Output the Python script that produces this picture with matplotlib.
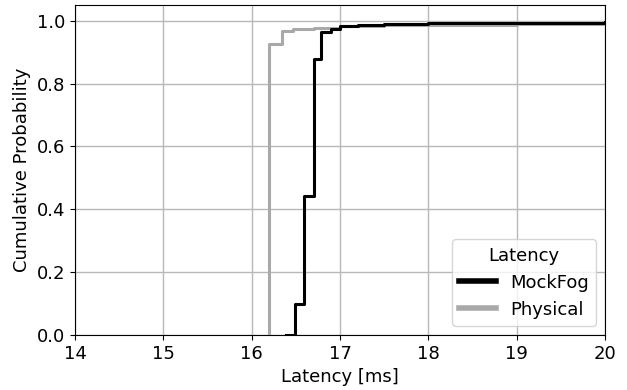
import matplotlib
matplotlib.use('Agg')
import matplotlib.pyplot as plt

plt.rcParams['font.family'] = ['DejaVu Sans']
plt.rcParams['font.size'] = 13

# CDF step points
mockfog_x = [16.39, 16.49, 16.59, 16.70, 16.79, 16.90, 17.00, 17.20, 17.50, 18.00, 19.00, 20.00]
mockfog_y = [0.000, 0.100, 0.443, 0.877, 0.963, 0.975, 0.983, 0.988, 0.990, 0.992, 0.994, 0.996]

physical_x = [16.20, 16.20, 16.34, 16.47, 16.70, 17.00, 17.50, 18.00, 19.00, 20.00]
physical_y = [0.000, 0.927, 0.966, 0.975, 0.978, 0.982, 0.985, 0.988, 0.990, 0.992]

fig = plt.figure(figsize=(6.27, 3.9), dpi=100)
ax = fig.add_axes([0.1196, 0.141, 0.8454, 0.846])

ax.step(physical_x, physical_y, where='post', color='darkgray', lw=2.2, label='Physical', zorder=3)
ax.step(mockfog_x, mockfog_y, where='post', color='black', lw=2.2, label='MockFog', zorder=4)

ax.set_xlim(14, 20)
ax.set_ylim(0, 1.05)
ax.set_xticks(range(14, 21))
ax.set_yticks([0.0, 0.2, 0.4, 0.6, 0.8, 1.0])
ax.grid(True, color='#b8b8b8', lw=1)
ax.set_axisbelow(True)
ax.set_xlabel('Latency [ms]')
ax.set_ylabel('Cumulative Probability')

h, l = ax.get_legend_handles_labels()
leg = ax.legend(h[::-1], l[::-1], title='Latency', loc='lower right', title_fontsize=13)
for line in leg.get_lines():
    line.set_linewidth(4)

fig.savefig('out.png', dpi=100)
